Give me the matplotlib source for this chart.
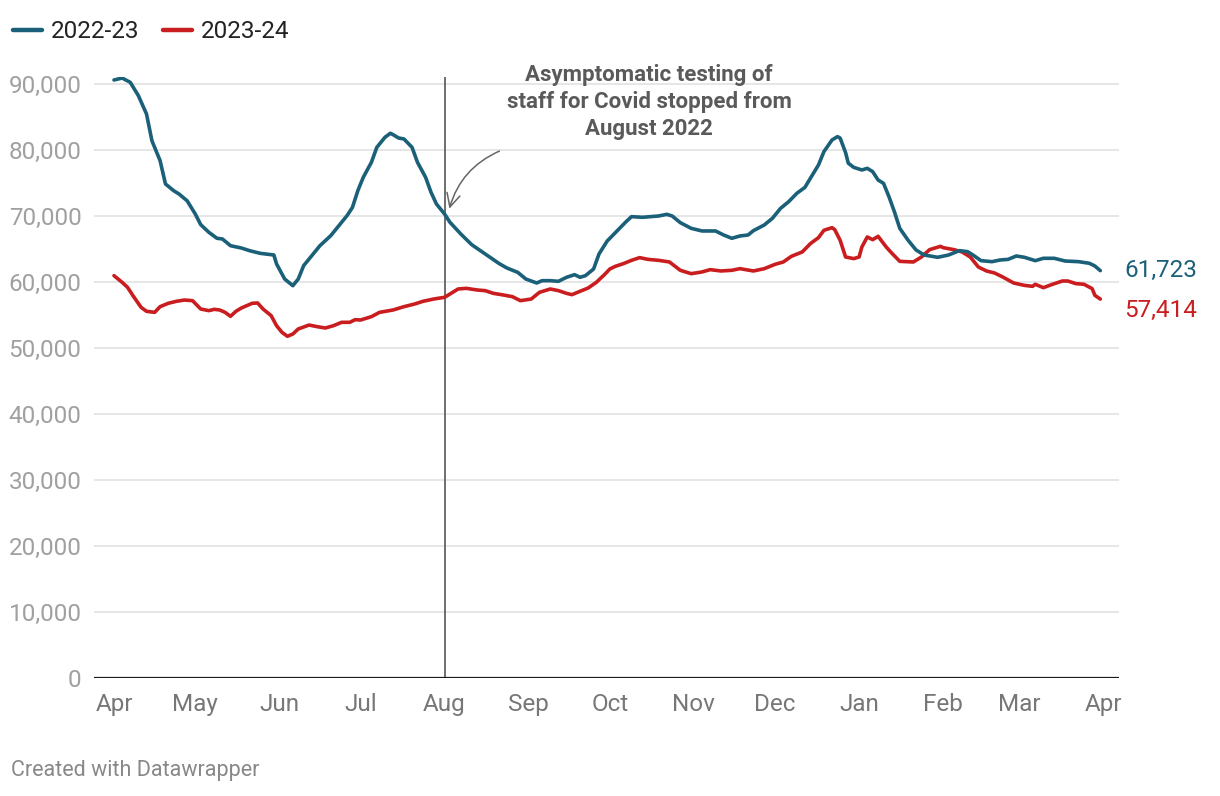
import matplotlib
matplotlib.use("Agg")
import matplotlib.pyplot as plt

plt.rcParams['font.family'] = ['Roboto', 'DejaVu Sans']

# days since 1 April
blue_days = [0, 3, 6, 9, 12, 14, 17, 19, 22, 24, 27, 30, 32, 35, 38, 40, 43, 47, 50, 54,
             59, 60, 63, 66, 68, 70, 73, 76, 80, 83, 86, 88, 90, 92, 95, 97, 100, 102, 103, 105,
             107, 110, 112, 115, 117, 119, 122, 124, 128, 132, 137, 142, 145, 149, 152, 156, 158, 161, 164, 167,
             170, 172, 174, 177, 179, 182, 186, 189, 191, 195, 198, 201, 204, 206, 209, 213, 217, 222, 225, 228,
             231, 234, 236, 240, 243, 246, 249, 252, 255, 257, 260, 262, 265, 267, 268, 270, 271, 273, 276, 278,
             280, 282, 284, 286, 288, 290, 293, 296, 299, 304, 308, 312, 315, 317, 320, 324, 327, 330, 333, 336,
             340, 343, 347, 351, 356, 360, 362, 364]
blue_vals = [90600, 90900, 90250, 88230, 85450, 81400, 78400, 74850, 73840, 73330, 72300, 70300, 68690, 67530, 66620, 66520, 65500, 65150, 64750, 64340,
             64090, 62730, 60450, 59440, 60450, 62480, 63990, 65500, 67020, 68540, 70050, 71300, 73840, 75860, 78130, 80400, 81920, 82530, 82320, 81820,
             81670, 80400, 78130, 75860, 73590, 71820, 70300, 69040, 67270, 65660, 64240, 62830, 62120, 61460, 60450, 59850, 60200, 60200, 60100, 60710,
             61110, 60710, 60960, 61970, 64240, 66200, 67880, 69140, 69900, 69800, 69900, 70000, 70250, 70000, 68990, 68130, 67730, 67730, 67120, 66620,
             66970, 67120, 67780, 68640, 69650, 71160, 72170, 73430, 74340, 75710, 77730, 79750, 81520, 82020, 81800, 79600, 78000, 77370, 76970, 77220,
             76720, 75450, 74950, 72930, 70660, 68130, 66360, 64850, 64090, 63740, 64090, 64750, 64600, 64090, 63230, 63080, 63330, 63430, 63940, 63740,
             63230, 63590, 63590, 63180, 63080, 62830, 62420, 61723]

red_days = [0, 3, 5, 7, 10, 12, 15, 17, 20, 23, 26, 29, 32, 35, 37, 39, 41, 43, 45, 47,
            51, 53, 55, 58, 60, 62, 64, 66, 68, 72, 75, 78, 81, 84, 87, 89, 91, 95, 98, 103,
            107, 111, 114, 118, 122, 124, 127, 130, 134, 137, 140, 143, 147, 150, 154, 157, 161, 164, 167, 169,
            172, 175, 178, 181, 183, 185, 188, 191, 194, 197, 201, 205, 209, 213, 217, 220, 224, 228, 231, 236,
            240, 244, 247, 250, 254, 257, 260, 262, 265, 266, 268, 270, 273, 275, 276, 278, 280, 282, 285, 287,
            290, 295, 298, 301, 305, 306, 310, 313, 316, 319, 322, 325, 328, 332, 336, 339, 340, 343, 346, 350,
            352, 355, 358, 361, 362, 364]
red_vals = [60960, 59950, 59190, 57930, 56160, 55560, 55400, 56260, 56770, 57070, 57270, 57170, 55910, 55660, 55860, 55760, 55400, 54800, 55560, 56060,
            56770, 56820, 55910, 54900, 53380, 52370, 51770, 52120, 52880, 53480, 53230, 53030, 53380, 53890, 53890, 54290, 54240, 54750, 55400, 55760,
            56260, 56670, 57070, 57420, 57680, 58180, 58940, 59040, 58790, 58690, 58280, 58080, 57780, 57170, 57420, 58430, 58940, 58690, 58280, 58080,
            58590, 59090, 59950, 61110, 61970, 62370, 62780, 63280, 63690, 63430, 63280, 63030, 61770, 61260, 61520, 61870, 61670, 61770, 62020, 61670,
            62020, 62680, 63030, 63890, 64550, 65810, 66720, 67830, 68230, 67930, 66310, 63790, 63540, 63790, 65300, 66820, 66410, 66920, 65300, 64390,
            63130, 63030, 63790, 64900, 65400, 65200, 64900, 64550, 63790, 62270, 61670, 61360, 60760, 59850, 59490, 59340, 59650, 59140, 59600, 60150,
            60150, 59750, 59650, 58990, 57980, 57414]

month_days = [0, 30, 61, 91, 122, 153, 183, 214, 244, 275, 306, 334, 365]
month_labels = ['Apr', 'May', 'Jun', 'Jul', 'Aug', 'Sep', 'Oct', 'Nov', 'Dec', 'Jan', 'Feb', 'Mar', 'Apr']
y_ticks = list(range(0, 90001, 10000))

event_day = 122  # 1 Aug
note = "Asymptomatic testing of\nstaff for Covid stopped from\nAugust 2022"

BLUE = '#1a6079'
RED = '#c91d1f'
FS = 17.5

fig = plt.figure(figsize=(12.2, 7.96), dpi=100)
ax = fig.add_axes([0.0770, 0.1482, 0.8402, 0.7546])

ax.plot(blue_days, blue_vals, color=BLUE, lw=2.6, solid_capstyle='round', solid_joinstyle='round', label='2022-23', zorder=4)
ax.plot(red_days, red_vals, color=RED, lw=2.6, solid_capstyle='round', solid_joinstyle='round', label='2023-24', zorder=3)

ax.set_xlim(-7.4, 370.9)
ax.set_ylim(0, 91000)

for s in ax.spines.values():
    s.set_visible(False)
ax.axhline(0, color='#1a1a1a', lw=1.6, zorder=5)

ax.set_yticks(y_ticks)
ax.set_yticklabels(['0' if v == 0 else f'{v:,}' for v in y_ticks])
ax.set_xticks(month_days)
ax.set_xticklabels(month_labels)
ax.tick_params(axis='y', length=0, pad=9, labelsize=FS, labelcolor='#a0a0a0')
ax.tick_params(axis='x', length=0, pad=11, labelsize=FS, labelcolor='#777777')
ax.yaxis.grid(True, color='#e2e2e2', lw=1.2)
ax.set_axisbelow(True)

ax.axvline(event_day, color='#555555', lw=1.2, zorder=2)
ax.text(197.5, 87300, note, ha='center', va='center', fontsize=16, fontweight='bold',
        color='#5a5a5a', linespacing=1.3)
ax.annotate('', xy=(123.5, 70700), xytext=(143.2, 80000),
            arrowprops=dict(arrowstyle='->', color='#666666', lw=1.1,
                            connectionstyle='arc3,rad=0.25', mutation_scale=24))

ax.annotate(f'{blue_vals[-1]:,}', xy=(blue_days[-1], blue_vals[-1]), xytext=(17, 0),
            textcoords='offset points', ha='left', va='center', fontsize=FS, color=BLUE, annotation_clip=False)
ax.annotate(f'{red_vals[-1]:,}', xy=(red_days[-1], red_vals[-1]), xytext=(17, -8.5),
            textcoords='offset points', ha='left', va='center', fontsize=FS, color=RED, annotation_clip=False)

leg = fig.legend(loc='upper left', bbox_to_anchor=(-0.0075, 1.002), ncol=2, frameon=False,
                 fontsize=FS, handlelength=1.2, handletextpad=0.35, columnspacing=1.0,
                 borderaxespad=0.5)
for t in leg.get_texts():
    t.set_color('#222222')
for h in leg.legend_handles:
    h.set_linewidth(3.2)

fig.text(0.009, 0.032, 'Created with Datawrapper', fontsize=15.5, color='#888888', ha='left', va='center')

fig.savefig('out.png', dpi=100)
